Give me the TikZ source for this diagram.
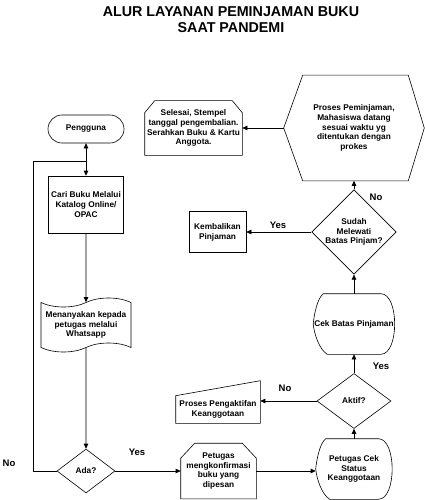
\documentclass[tikz,border=0pt]{standalone}
\usepackage{fontspec}
\setmainfont{Liberation Sans}
\usetikzlibrary{arrows.meta, shapes}

\begin{document}
\begin{tikzpicture}[
	x = 1pt, y = -1pt,
	line width = 0.6pt,
	>={Triangle[length=5pt, width=4.5pt]},
	txt/.style={font=\fontsize{8.3}{9.8}\selectfont\bfseries, align=center, inner sep=0pt},
	process/.style={txt, draw, rectangle},
	terminal/.style={txt, draw, rectangle, rounded corners=14pt},
	decision/.style={txt, draw, diamond, inner sep=0pt},
	outline/.style={txt, rectangle},
	document/.style={txt, draw, tape, tape bend height=9pt},
	answer/.style={font=\fontsize{9.5}{10}\selectfont\bfseries, inner sep=0pt},
	]
	\useasboundingbox (0,0) rectangle (424,500);

	\node (title) [font=\fontsize{14.3}{16}\selectfont\bfseries, align=center] at (231,20) {ALUR LAYANAN PEMINJAMAN BUKU\\SAAT PANDEMI};

	% left column
	\node (pengguna) [terminal, minimum width=76pt, minimum height=28pt] at (86,129) {Pengguna};
	\node (cari) [process, minimum width=75pt, minimum height=57pt] at (86,204.5) {Cari Buku Melalui\\Katalog Online/\\OPAC};
	\node (tanya) [document, minimum width=90pt, minimum height=54pt] at (86,325) {Menanyakan kepada\\petugas melalui\\Whatsapp};
	\node (ada) [decision, minimum width=58pt, minimum height=44pt] at (86,471) {Ada?};

	% bottom row and right column
	\node (konfirmasi) [outline, minimum width=75pt, minimum height=55pt] at (218.5,471) {Petugas\\mengkonfirmasi\\buku yang\\dipesan};
	\node (status) [outline, minimum width=76pt, minimum height=60pt] at (354,469) {Petugas Cek\\Status\\Keanggotaan};
	\node (aktif) [decision, minimum width=74pt, minimum height=55pt] at (354,401) {Aktif?};
	\node (aktifan) [outline, minimum width=84pt, minimum height=27pt] at (218,409.5) {Proses Pengaktifan\\Keanggotaan};
	\node (batas) [outline, minimum width=81pt, minimum height=60pt] at (354,324) {Cek Batas Pinjaman};
	\node (sudah) [decision, minimum width=73pt, minimum height=55pt] at (354,232) {Sudah\\Melewati\\Batas Pinjam?};
	\node (kembali) [process, minimum width=57pt, minimum height=41pt] at (217.5,232) {Kembalikan\\Pinjaman};
	\node (pinjam) [outline, minimum width=140pt, minimum height=105pt] at (354,128) {Proses Peminjaman,\\Mahasiswa datang\\sesuai waktu yg\\ditentukan dengan\\prokes};
	\node (selesai) [outline, minimum width=97pt, minimum height=54pt] at (193.5,128) {Selesai, Stempel\\tanggal pengembalian.\\Serahkan Buku \& Kartu\\Anggota.};

	% outlines of the odd shapes
	\draw ([xshift=19pt]pinjam.north west) -- ([xshift=-16pt]pinjam.north east) -- (pinjam.east)
	-- ([xshift=-16pt]pinjam.south east) -- ([xshift=19pt]pinjam.south west) -- (pinjam.west) -- cycle;
	\draw ([yshift=-12pt]selesai.north west) -- ([xshift=10pt]selesai.north west) -- ([xshift=-10pt]selesai.north east)
	-- ([yshift=-12pt]selesai.north east) -- (selesai.south east) -- (selesai.south west) -- cycle;
	\draw ([yshift=-15pt]konfirmasi.north west) -- ([xshift=14pt]konfirmasi.north west) -- ([xshift=-14pt]konfirmasi.north east)
	-- ([yshift=-15pt]konfirmasi.north east) -- (konfirmasi.south east) -- (konfirmasi.south west) -- cycle;
	\draw (aktifan.north west) -- ([yshift=15pt]aktifan.north east) -- (aktifan.south east) -- (aktifan.south west) -- cycle;
	\foreach \n in {batas, status}
	\draw ([xshift=10pt]\n.north west) -- ([xshift=-14pt]\n.north east)
	.. controls ([xshift=4.5pt]\n.north east) and ([xshift=4.5pt]\n.south east) .. ([xshift=-14pt]\n.south east)
	-- ([xshift=14pt]\n.south west)
	.. controls ([xshift=6pt,yshift=5pt]\n.south west) and ([xshift=1pt,yshift=-10pt]\n.west) .. (\n.west)
	.. controls ([xshift=1pt,yshift=10pt]\n.west) and ([xshift=4pt,yshift=-5pt]\n.north west) .. ([xshift=10pt]\n.north west)
	-- cycle;

	% connectors
	\coordinate (junction) at (86,161);
	\coordinate (corner) at (33,161);
	\draw[->] (junction) -- (pengguna);
	\draw[->] (junction) -- (cari);
	\draw[->] (cari) -- (tanya);
	\draw[->] (tanya) -- (ada);
	\draw (ada.west) -| (corner) -- (junction);
	\draw[->] (ada) -- (konfirmasi);
	\draw[->] (konfirmasi.east) -- (konfirmasi.east -| status.west);
	\draw[->] (status) -- (aktif);
	\draw[->] (aktif.west) -- (aktif.west -| aktifan.east);
	\draw[->] (aktif) -- (batas);
	\draw[->] (batas) -- (sudah);
	\draw[->] (sudah) -- (kembali);
	\draw[->] (sudah) -- (pinjam);
	\draw[->] (pinjam.west) -- (selesai.east);

	% answers
	\node (no1) [answer] at (9,463) {No};
	\node (yes1) [answer] at (137,452) {Yes};
	\node (no2) [answer] at (285,388) {No};
	\node (yes2) [answer] at (381,366) {Yes};
	\node (yes3) [answer] at (278,225) {Yes};
	\node (no3) [answer] at (376,197) {No};
\end{tikzpicture}
\end{document}
